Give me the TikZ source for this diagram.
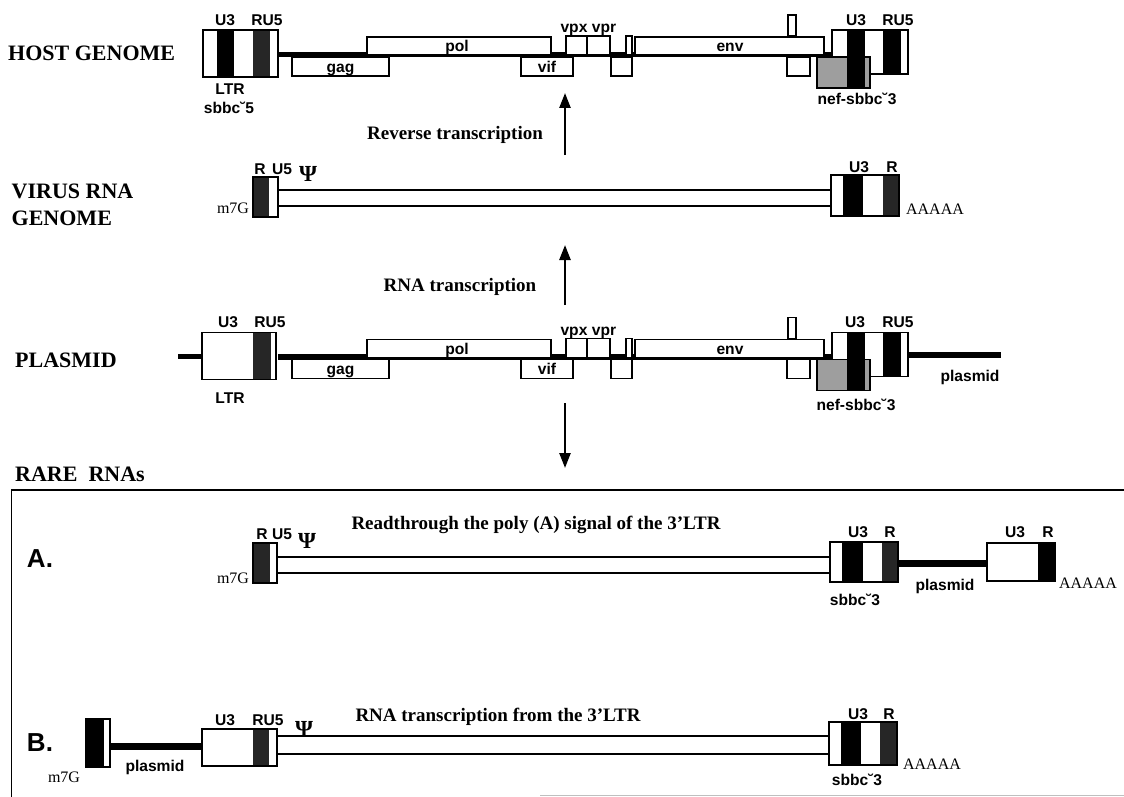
\documentclass[tikz,border=0pt]{standalone}
\usepackage{fontspec}
\setmainfont{Liberation Serif}
\newfontfamily\lsans{Liberation Sans}
\usetikzlibrary{arrows.meta}
\tikzset{
  ol/.style={draw=black, line width=1.8pt},
  wbox/.style={draw=black, line width=1.8pt, fill=white},
  drk/.style={fill=black!85},
  nefc/.style={fill=black!38, draw=black, line width=1.8pt},
  bb/.style={draw=black, line width=5.5pt},
  pl/.style={draw=black, line width=7pt},
  tube/.style={draw=black, line width=1.8pt},
  lab/.style={font=\lsans\bfseries\fontsize{15.6}{15.6}\selectfont, inner sep=0pt, text height=11.1pt, text depth=0pt},
  big/.style={font=\lsans\bfseries\fontsize{26}{26}\selectfont, inner sep=0pt},
  ttl/.style={font=\bfseries\fontsize{22}{24}\selectfont, inner sep=0pt, anchor=west},
  proc/.style={font=\bfseries\fontsize{19}{20}\selectfont, inner sep=0pt, text height=12.5pt, text depth=0pt},
  ser/.style={font=\fontsize{16}{16}\selectfont, inner sep=0pt},
  psi/.style={font=\bfseries\fontsize{23}{23}\selectfont, inner sep=0pt},
  flow/.style={line width=2.4pt, -{Triangle[length=15pt,width=11pt]}},
}
\newcommand\genebody{%
  \draw[bb] (278,54.5) -- (832,54.5);
  \draw[wbox] (292,57) rectangle (389,76);
  \draw[wbox] (367,37) rectangle (551,55);
  \draw[wbox] (521,57) rectangle (573,76);
  \draw[wbox] (566,36) rectangle (587,55);
  \draw[wbox] (587,36) rectangle (610,55);
  \draw[wbox] (611,57) rectangle (632,76);
  \draw[wbox] (626,36) rectangle (632,55);
  \draw[wbox] (635,37) rectangle (824,55);
  \draw[wbox] (788,15) rectangle (796,36);
  \draw[wbox] (787,57) rectangle (810,76);
  \fill[white] (832,30) rectangle (908,74);
  \fill[black] (883,30) rectangle (901,74);
  \draw[ol] (832,30) rectangle (908,74);
  \draw[nefc] (817,57) rectangle (870,88);
  \fill[black] (847,30) rectangle (865,88);
}
\begin{document}
\begin{tikzpicture}[x=1pt,y=-1pt]
\useasboundingbox (0,0) rectangle (1124,797);

% ---------- HOST GENOME ----------
\node[ttl] (thost) at (8,53) {HOST GENOME};
\genebody
\fill[white] (203,30) rectangle (278,77);
\fill[black] (217,30) rectangle (234,77);
\fill[drk] (253,30) rectangle (270,77);
\draw[ol] (203,30) rectangle (278,77);
\node[lab] (hU3) at (225,20) {U3};
\node[lab] (hRU5) at (267,20) {RU5};
\node[lab] (hLTR) at (230,89) {LTR};
\node[lab] (hsb) at (229,108) {sbbc˘5};
\node[lab] (hgag) at (340.5,66.5) {gag};
\node[lab] (hpol) at (457,46) {pol};
\node[lab] (hvif) at (547,66.5) {vif};
\node[lab] (hvpx) at (574,27) {vpx};
\node[lab] (hvpr) at (604,27) {vpr};
\node[lab] (henv) at (730,46) {env};
\node[lab] (hU3r) at (856,20) {U3};
\node[lab] (hRU5r) at (898,20) {RU5};
\node[lab] (hnef) at (857,99) {nef-sbbc˘3};

% arrow 1
\node[proc] (prt) at (455,133) {Reverse transcription};
\coordinate (a1s) at (565,155);
\coordinate (a1e) at (565,93);
\draw[flow] (a1s) -- (a1e);

% ---------- VIRUS RNA GENOME ----------
\node[ttl] (tvir1) at (11.5,191.5) {VIRUS RNA};
\node[ttl] (tvir2) at (11.5,218) {GENOME};
\draw[tube] (278,190) -- (831,190);
\draw[tube] (278,205.7) -- (831,205.7);
\fill[drk] (253,176.7) rectangle (269,216.7);
\draw[ol] (253,176.7) rectangle (278,216.7);
\fill[white] (831,175) rectangle (899,216);
\fill[black] (843,175) rectangle (863,216);
\fill[drk] (883,175) rectangle (899,216);
\draw[ol] (831,175) rectangle (899,216);
\node[lab] (vR) at (260,169) {R};
\node[lab] (vU5) at (282,169) {U5};
\node[psi] (vpsi) at (308,174) {Ψ};
\node[ser] (vm7g) at (233,208) {m7G};
\node[lab] (vU3) at (859,167) {U3};
\node[lab] (vRr) at (892,167) {R};
\node[ser] (vA) at (935,209) {AAAAA};

% arrow 2
\node[proc] (prna) at (460,285) {RNA transcription};
\coordinate (a2s) at (565,305);
\coordinate (a2e) at (565,245);
\draw[flow] (a2s) -- (a2e);

% ---------- PLASMID ----------
\node[ttl] (tpla) at (15,360) {PLASMID};
\begin{scope}[shift={(0,302.5)}]
  \draw[bb] (178,54) -- (203,54);
  \genebody
  \draw[bb] (908,52.5) -- (1001,52.5);
  \fill[white] (202,30) rectangle (276,77);
  \fill[drk] (253,30) rectangle (271,77);
  \draw[ol] (202,30) rectangle (276,77);
\end{scope}
\node[lab] (pU3) at (228,322) {U3};
\node[lab] (pRU5) at (270,322) {RU5};
\node[lab] (pLTR) at (230,398) {LTR};
\node[lab] (pgag) at (340.5,369) {gag};
\node[lab] (ppol) at (457,348.5) {pol};
\node[lab] (pvif) at (547,369) {vif};
\node[lab] (pvpx) at (574,329.5) {vpx};
\node[lab] (pvpr) at (604,329.5) {vpr};
\node[lab] (penv) at (730,348.5) {env};
\node[lab] (pU3r) at (855,322) {U3};
\node[lab] (pRU5r) at (898,322) {RU5};
\node[lab] (pnef) at (856,405) {nef-sbbc˘3};
\node[lab] (ppl) at (970,376) {plasmid};

% arrow 3
\coordinate (a3s) at (565,403);
\coordinate (a3e) at (565,468);
\draw[flow] (a3s) -- (a3e);

% ---------- RARE RNAs ----------
\node[ttl] (trare) at (15,474) {RARE\ \ RNAs};
\draw[line width=1.5pt] (11.7,797) -- (11.7,490) -- (1124,490);
\draw[black!25, line width=1pt] (540,795) -- (1124,795);

% Row A
\node[big] (lA) at (40,559) {A.};
\node[proc] (tA) at (536,523) {Readthrough the poly (A) signal of the 3’LTR};
\draw[tube] (277,556.7) -- (830,556.7);
\draw[tube] (277,573.3) -- (830,573.3);
\fill[drk] (253,542.7) rectangle (270,582.7);
\draw[ol] (253,542.7) rectangle (277,582.7);
\draw[pl] (898,563) -- (987,563);
\fill[white] (830,541.7) rectangle (898,581.7);
\fill[black] (842,541.7) rectangle (863,581.7);
\fill[drk] (882,541.7) rectangle (898,581.7);
\draw[ol] (830,541.7) rectangle (898,581.7);
\fill[white] (987,542.7) rectangle (1055,580.7);
\fill[black] (1038,542.7) rectangle (1055,580.7);
\draw[ol] (987,542.7) rectangle (1055,580.7);
\node[lab] (aR) at (262,534) {R};
\node[lab] (aU5) at (282,534) {U5};
\node[psi] (apsi) at (307,541) {Ψ};
\node[ser] (am7g) at (233,578) {m7G};
\node[lab] (aU3) at (858,532) {U3};
\node[lab] (aRr) at (890,532) {R};
\node[lab] (asb) at (855,600) {sbbc˘3};
\node[lab] (apl) at (945,585) {plasmid};
\node[lab] (aU3b) at (1015,532) {U3};
\node[lab] (aRb) at (1048,532) {R};
\node[ser] (aA) at (1088,583) {AAAAA};

% Row B
\node[big] (lB) at (40,743) {B.};
\node[proc] (tB) at (498,715) {RNA transcription from the 3’LTR};
\draw[pl] (110,746) -- (202,746);
\fill[black] (86,719) rectangle (104,767);
\draw[ol] (86,719) rectangle (110,767);
\draw[tube] (277,736) -- (829,736);
\draw[tube] (277,754) -- (829,754);
\fill[white] (202,729) rectangle (277,766);
\fill[drk] (252.5,729) rectangle (268.6,766);
\draw[ol] (202,729) rectangle (277,766);
\fill[white] (829,722) rectangle (897,765);
\fill[black] (841,722) rectangle (861,765);
\fill[drk] (880,722) rectangle (897,765);
\draw[ol] (829,722) rectangle (897,765);
\node[lab] (bU3) at (225,720) {U3};
\node[lab] (bRU5) at (268,720) {RU5};
\node[psi] (bpsi) at (304,729) {Ψ};
\node[ser] (bm7g) at (64,777) {m7G};
\node[lab] (bpl) at (155,766) {plasmid};
\node[lab] (bU3) at (858,714) {U3};
\node[lab] (bRr) at (889,714) {R};
\node[ser] (bA) at (932,764) {AAAAA};
\node[lab] (bsb) at (857,780) {sbbc˘3};
\end{tikzpicture}
\end{document}
